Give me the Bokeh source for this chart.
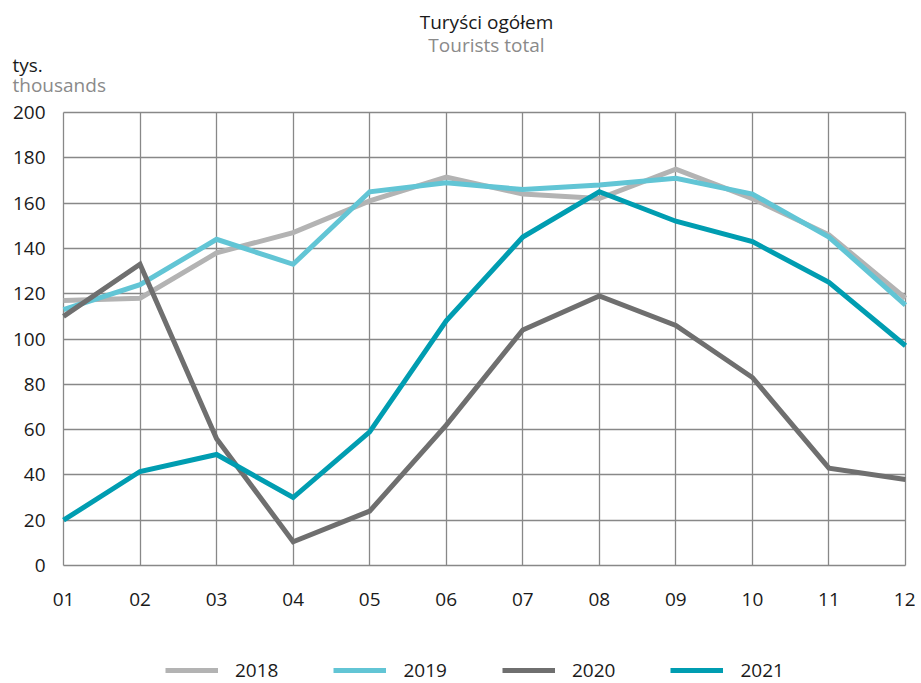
from bokeh.plotting import figure
from bokeh.models import Label, Legend, LegendItem, FixedTicker, Range1d
from bokeh.embed import file_html
from bokeh.resources import INLINE

months = [1, 2, 3, 4, 5, 6, 7, 8, 9, 10, 11, 12]
month_labels = ["01", "02", "03", "04", "05", "06", "07", "08", "09", "10", "11", "12"]
y_ticks = [0, 20, 40, 60, 80, 100, 120, 140, 160, 180, 200]
y2018 = [117, 118, 138, 147, 161, 171.5, 164, 162, 175, 162, 146, 118]
y2019 = [113, 124, 144, 133, 165, 169, 166, 168, 171, 164, 145, 115]
y2020 = [110, 133, 56, 10.5, 24, 62, 104, 119, 106, 83, 43, 38]
y2021 = [20, 41.5, 49, 30, 59, 108, 145, 165, 152, 143, 125, 97]
series = [("2018", y2018, "#b3b3b3"), ("2019", y2019, "#62c5d5"),
          ("2020", y2020, "#6f6f6f"), ("2021", y2021, "#009db1")]

FONT = "Open Sans"
FS = "19px"
DARK = "#1a1a1a"
GREY = "#8a8a8a"

# layout in canvas pixels
W, H = 915, 683
PX_LEFT, PX_RIGHT = 63, 905      # x of first / last month
PX_TOP, PX_BOTTOM = 112, 565     # y of 200 / 0
ppx = (PX_RIGHT - PX_LEFT) / (len(months) - 1)
ppy = (PX_BOTTOM - PX_TOP) / 200.0

def dx(px):
    return months[0] + (px - PX_LEFT) / ppx

def dy(py):
    return (PX_BOTTOM - py) / ppy

p = figure(width=W, height=H, output_backend="svg", toolbar_location=None,
           x_range=Range1d(dx(0), dx(W)), y_range=Range1d(dy(H), dy(0)),
           min_border=0, min_border_left=0, min_border_right=0,
           min_border_top=0, min_border_bottom=0)
p.outline_line_color = None
p.background_fill_color = "white"

p.xaxis.ticker = FixedTicker(ticks=months)
p.xaxis.major_label_overrides = {m: l for m, l in zip(months, month_labels)}
p.yaxis.ticker = FixedTicker(ticks=y_ticks)
p.xaxis.fixed_location = 0
p.yaxis.fixed_location = months[0]
for ax in (p.xaxis, p.yaxis):
    ax.axis_line_color = None
    ax.major_tick_line_color = None
    ax.minor_tick_line_color = None
    ax.major_tick_out = 0
    ax.major_tick_in = 0
    ax.major_label_text_font = FONT
    ax.major_label_text_font_size = FS
    ax.major_label_text_color = DARK
p.xaxis.major_label_standoff = 27
p.yaxis.major_label_standoff = 18

for g in (p.xgrid, p.ygrid):
    g.grid_line_color = "#888888"
    g.grid_line_width = 1.3
p.xgrid.bounds = (months[0], months[-1])
p.xgrid.cross_bounds = (y_ticks[0], y_ticks[-1])
p.ygrid.bounds = (y_ticks[0], y_ticks[-1])
p.ygrid.cross_bounds = (months[0], months[-1])

items = []
for name, ys, col in series:
    r = p.line(months, ys, line_color=col, line_width=5, line_join="miter")
    items.append(LegendItem(label=name, renderers=[r]))

legend = Legend(items=items, orientation="horizontal", location=(165, 0),
                glyph_width=53, glyph_height=14, label_height=14, label_standoff=17,
                spacing=55, padding=0, margin=0, border_line_color=None,
                background_fill_alpha=0, label_text_font=FONT, label_text_font_size=FS,
                label_text_color=DARK)
p.add_layout(legend, "center")

def lab(text, px, py, color, align):
    p.add_layout(Label(x=dx(px), y=dy(py), text=text, text_font=FONT, text_font_size=FS,
                       text_color=color, text_align=align, text_baseline="middle"))

lab("Turyści ogółem", 486, 21, DARK, "center")
lab("Tourists total", 486, 44, GREY, "center")
lab("tys.", 12, 64, DARK, "left")
lab("thousands", 12, 84, GREY, "left")

open("out.html", "w").write(file_html(p, INLINE))
